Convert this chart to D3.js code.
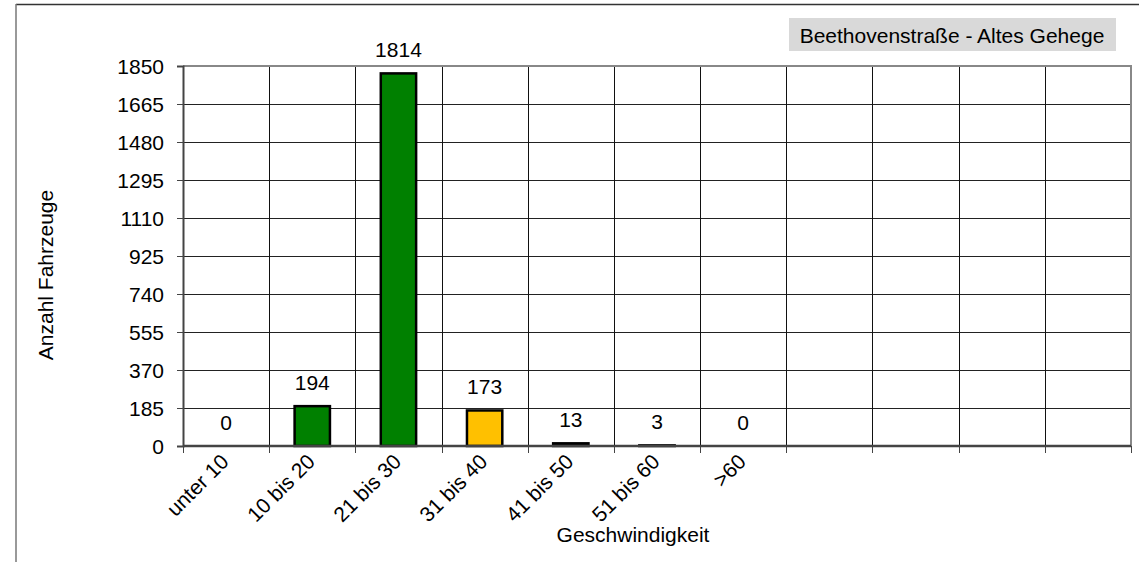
<!DOCTYPE html>
<html>
<head>
<meta charset="utf-8">
<script src="https://cdn.jsdelivr.net/npm/d3@7"></script>
<style>
  body { margin: 0; background: #fff; }
  svg text { font-family: "Liberation Sans", Arial, sans-serif; font-size: 21px; fill: #000; }
</style>
</head>
<body>
<div id="vis"></div>
<script>
// Chart data
var categories = ['unter 10', '10 bis 20', '21 bis 30', '31 bis 40', '41 bis 50', '51 bis 60', '>60', '', ' ', '  ', '   '];
var counts = [0, 194, 1814, 173, 13, 3, 0, null, null, null, null];
var barColors = ['#008000', '#008000', '#008000', '#ffc000', '#000000', '#000000', '#000000'];
var yTicks = [0, 185, 370, 555, 740, 925, 1110, 1295, 1480, 1665, 1850];
var title = 'Beethovenstraße - Altes Gehege';

var width = 1139, height = 562;
var margin = { left: 183, top: 66, right: 8, bottom: 116 };
var drawWidth = width - margin.left - margin.right;
var drawHeight = height - margin.top - margin.bottom;

var svg = d3.select('#vis').append('svg')
    .attr('width', width)
    .attr('height', height);

// outer chart frame
svg.append('line').attr('x1', 16).attr('x2', width).attr('y1', 4.5).attr('y2', 4.5)
    .attr('stroke', '#333').attr('stroke-width', 1.5);
svg.append('line').attr('x1', 16).attr('x2', 16).attr('y1', 4).attr('y2', height)
    .attr('stroke', '#777').attr('stroke-width', 1.5);

var xScale = d3.scaleBand().domain(categories).range([0, drawWidth]);
var yScale = d3.scaleLinear().domain([0, 1850]).range([drawHeight, 0]);

var g = svg.append('g')
    .attr('transform', 'translate(' + margin.left + ',' + margin.top + ')');

// horizontal grid
g.selectAll('.hgrid').data(yTicks.slice(1, -1)).enter().append('line')
    .attr('class', 'hgrid')
    .attr('x1', 0).attr('x2', drawWidth)
    .attr('y1', function (d) { return Math.round(yScale(d)) + 0.5; })
    .attr('y2', function (d) { return Math.round(yScale(d)) + 0.5; })
    .attr('stroke', '#222').attr('stroke-width', 1);

// vertical grid
g.selectAll('.vgrid').data(categories.slice(1)).enter().append('line')
    .attr('class', 'vgrid')
    .attr('x1', function (d) { return Math.round(xScale(d)) + 0.5; })
    .attr('x2', function (d) { return Math.round(xScale(d)) + 0.5; })
    .attr('y1', 0).attr('y2', drawHeight)
    .attr('stroke', '#111').attr('stroke-width', 1);

// plot frame top and right
g.append('path')
    .attr('d', 'M0,0H' + drawWidth + 'V' + drawHeight)
    .attr('fill', 'none').attr('stroke', '#888').attr('stroke-width', 2);

// bars
var barData = categories.map(function (c, i) { return { cat: c, val: counts[i], color: barColors[i] }; })
    .filter(function (d) { return d.val !== null; });

var bw = xScale.bandwidth() * 0.41;
g.selectAll('.bar').data(barData.filter(function (d) { return d.val > 0; })).enter().append('rect')
    .attr('class', 'bar')
    .attr('x', function (d) { return xScale(d.cat) + (xScale.bandwidth() - bw) / 2; })
    .attr('width', bw)
    .attr('y', function (d) { return yScale(d.val); })
    .attr('height', function (d) { return drawHeight - yScale(d.val); })
    .attr('fill', function (d) { return d.color; })
    .attr('stroke', '#000').attr('stroke-width', 2.5);

// value labels
g.selectAll('.val').data(barData).enter().append('text')
    .attr('class', 'val')
    .attr('x', function (d) { return xScale(d.cat) + xScale.bandwidth() / 2; })
    .attr('y', function (d) { return yScale(d.val) - 16.5; })
    .attr('text-anchor', 'middle')
    .text(function (d) { return d.val; });

// y axis
var yAxis = d3.axisLeft(yScale).tickValues(yTicks).tickFormat(d3.format('d'))
    .tickSize(6).tickPadding(13);
var yAxisG = g.append('g').call(yAxis);
yAxisG.select('.domain').attr('stroke', '#444').attr('stroke-width', 2);
yAxisG.selectAll('.tick line').attr('stroke', '#444');
yAxisG.selectAll('text').attr('dy', '0.36em');

// x axis with ticks on category boundaries
var xAxisG = g.append('g').attr('transform', 'translate(0,' + drawHeight + ')');
xAxisG.append('line').attr('x1', 0).attr('x2', drawWidth)
    .attr('stroke', '#444').attr('stroke-width', 2.5);
xAxisG.selectAll('.xt').data(categories.concat(['end'])).enter().append('line')
    .attr('class', 'xt')
    .attr('x1', function (d, i) { return Math.round(i * xScale.step()) + 0.5; })
    .attr('x2', function (d, i) { return Math.round(i * xScale.step()) + 0.5; })
    .attr('y1', 0).attr('y2', 7)
    .attr('stroke', '#444');
xAxisG.selectAll('.xl').data(categories.filter(function (c) { return c.trim() !== ''; })).enter().append('text')
    .attr('class', 'xl')
    .attr('text-anchor', 'end')
    .attr('transform', function (d) {
        return 'translate(' + (xScale(d) + xScale.bandwidth() / 2 + 4) + ',17) rotate(-45)';
    })
    .text(function (d) { return d; });

// axis titles
svg.append('text')
    .attr('text-anchor', 'middle')
    .attr('transform', 'translate(53,275) rotate(-90)')
    .text('Anzahl Fahrzeuge');
svg.append('text')
    .attr('text-anchor', 'middle')
    .attr('x', 633).attr('y', 542)
    .text('Geschwindigkeit');

// title box
svg.append('rect')
    .attr('x', 789).attr('y', 18).attr('width', 327).attr('height', 33)
    .attr('fill', '#d9d9d9');
svg.append('text')
    .attr('x', 952).attr('y', 43)
    .attr('text-anchor', 'middle')
    .text(title);
</script>
</body>
</html>
